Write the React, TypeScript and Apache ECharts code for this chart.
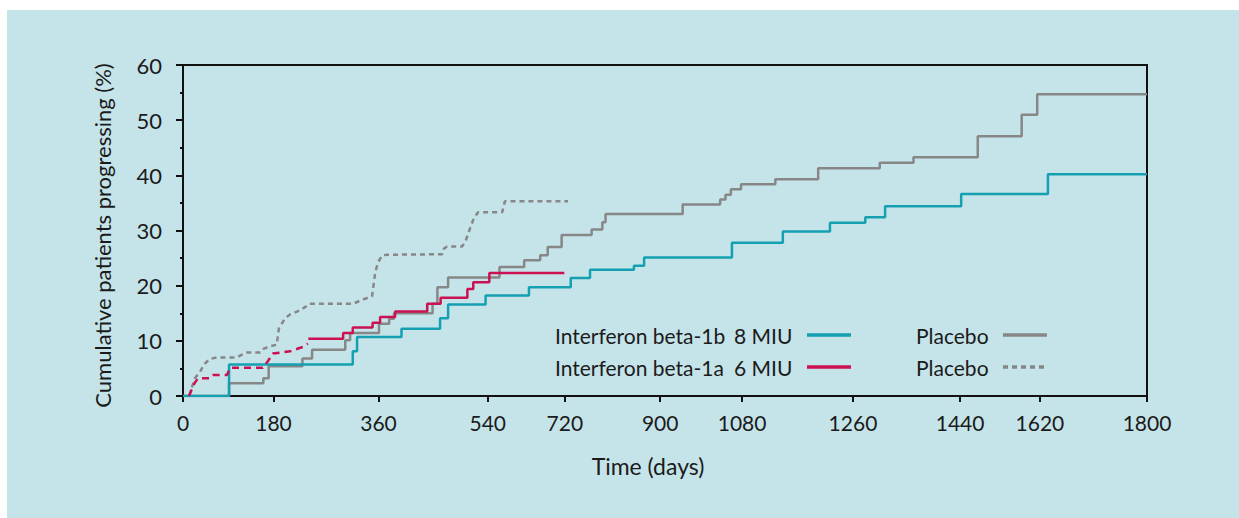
import React, { useEffect, useRef } from "react";
import * as echarts from "echarts";

// Kaplan–Meier style cumulative progression (time on the drawn axis in days, %)
const beta1b8MIU: [number, number][] = [
  [0, 0], [86, 5.7], [317, 8.1], [325, 10.7], [408, 12.2], [480, 14.1], [495, 16.6],
  [565, 18.2], [646, 19.7], [724, 21.4], [760, 22.9], [842, 23.6], [861, 25.1],
  [1025, 27.8], [1120, 29.8], [1208, 31.4], [1274, 32.4], [1311, 34.4], [1453, 36.6],
  [1615, 40.2], [1800, 40.2],
];

const placebo1b: [number, number][] = [
  [0, 0], [86, 2.3], [150, 3.2], [160, 5.4], [223, 6.8], [241, 8.4], [303, 10.1],
  [312, 11.4], [366, 13.1], [385, 14.0], [394, 15.0], [466, 16.7], [475, 19.7],
  [495, 21.5], [591, 23.4], [637, 24.6], [667, 25.5], [681, 27.0], [707, 29.2],
  [763, 30.2], [783, 31.5], [789, 33.0], [933, 34.7], [1003, 35.6], [1013, 36.5],
  [1023, 37.5], [1042, 38.4], [1106, 39.3], [1186, 41.3], [1301, 42.3], [1364, 43.3],
  [1484, 47.1], [1566, 51.0], [1595, 54.7], [1800, 54.7],
];

const beta1a6MIUEarly: [number, number][] = [
  [11, 0], [22, 2.4], [28, 3.2], [50, 3.2], [56, 3.8], [82, 3.8], [88, 5.1],
  [149, 5.1], [159, 6.4], [168, 7.7], [200, 8.1], [215, 8.6], [224, 8.9], [233, 9.5],
];

const beta1a6MIU: [number, number][] = [
  [234, 10.4], [299, 11.4], [317, 12.4], [354, 13.3], [368, 14.3], [396, 15.3],
  [456, 16.7], [481, 17.8], [531, 19.4], [542, 20.6], [572, 22.3], [712, 22.3],
];

const placebo1a: [number, number][] = [
  [12, 0], [16, 1.4], [22, 3.2], [32, 4.4], [39, 5.7], [50, 6.7], [64, 7.0], [101, 7.0],
  [110, 7.5], [120, 7.9], [144, 7.9], [151, 8.6], [162, 9.0], [175, 9.3], [179, 12.2],
  [190, 14.0], [200, 14.8], [213, 15.3], [228, 16.1], [235, 16.7], [317, 16.7],
  [331, 17.3], [353, 18.1], [359, 22.4], [364, 24.2], [372, 25.5], [381, 25.6],
  [484, 25.7], [487, 26.7], [493, 27.1], [521, 27.1], [527, 27.9], [536, 30.4],
  [543, 32.2], [551, 33.3], [596, 33.3], [601, 35.3], [611, 35.3], [719, 35.3],
];

// Tick labels of the time axis, and where the original figure printed them on its scale
const xTickLabels = ["0", "180", "360", "540", "720", "900", "1080", "1260", "1440", "1620", "1800"];
const xTickPlacement = [0, 169, 365, 569, 713, 891, 1044, 1251, 1451, 1600, 1800];
const yTicks = [0, 10, 20, 30, 40, 50, 60];

const leftLegend = [
  { name: "Interferon beta-1b 8 MIU", label: "Interferon beta-1b", dose: "8 MIU" },
  { name: "Interferon beta-1a 6 MIU", label: "Interferon beta-1a", dose: "6 MIU" },
];
const rightLegend = [
  { name: "Placebo (beta-1b)", label: "Placebo" },
  { name: "Placebo (beta-1a)", label: "Placebo" },
];

const TEAL = "#14a0b1";
const RED = "#cc1152";
const GRAY = "#878787";
const FONT = "Lato, 'Open Sans', sans-serif";
const TXT = "#1b1b1b";

export default function App() {
  const ref = useRef<HTMLDivElement>(null);
  useEffect(() => {
    if (!ref.current) return;
    const chart = echarts.init(ref.current, undefined, { renderer: "svg" });
    const labelOf: Record<string, string> = {};
    leftLegend.forEach((l) => (labelOf[l.name] = `{n|${l.label}}{m|${l.dose}}`));
    rightLegend.forEach((l) => (labelOf[l.name] = `{p|${l.label}}`));
    const lineSeries = (name: string, data: any, color: string, opts: any = {}) => ({
      name,
      type: "line",
      data,
      showSymbol: false,
      symbol: "none",
      lineStyle: { color, width: 2.5, ...(opts.lineStyle || {}) },
      itemStyle: { color },
      step: opts.step,
      z: opts.z ?? 2,
      silent: true,
    });
    const legendBase = {
      orient: "vertical",
      top: 323,
      padding: 0,
      align: "right",
      itemWidth: 44,
      itemHeight: 14,
      itemGap: 8,
      selectedMode: false,
      formatter: (name: string) => labelOf[name] ?? name,
      lineStyle: { width: 3.5 },
      itemStyle: { opacity: 0 },
    };
    const rich = (w: number) => ({
      width: w, align: "left", fontSize: 21, fontFamily: FONT, color: TXT, lineHeight: 24,
    });
    chart.setOption({
      animation: false,
      backgroundColor: "transparent",
      textStyle: { fontFamily: FONT, color: TXT },
      grid: {
        left: 183, right: 92, top: 65, bottom: 122,
        show: true, borderColor: "#111", borderWidth: 2, backgroundColor: "transparent",
      },
      xAxis: {
        type: "value",
        min: 0,
        max: 1800,
        name: "Time (days)",
        nameLocation: "middle",
        nameGap: 58,
        nameTextStyle: { fontSize: 23, color: TXT, fontFamily: FONT, padding: [0, 34, 0, 0] },
        axisLine: { show: true, onZero: false, lineStyle: { color: "#111", width: 2 } },
        axisTick: { show: true, length: 6, customValues: xTickPlacement, lineStyle: { color: "#111", width: 2 } },
        axisLabel: {
          fontSize: 21, color: TXT, margin: 16, fontFamily: FONT,
          customValues: xTickPlacement,
          formatter: (v: number) => {
            const i = xTickPlacement.indexOf(v);
            return i >= 0 ? xTickLabels[i] : "";
          },
        },
        splitLine: { show: false },
      },
      yAxis: {
        type: "value",
        min: yTicks[0],
        max: yTicks[yTicks.length - 1],
        interval: 10,
        name: "Cumulative patients progressing (%)",
        nameLocation: "middle",
        nameGap: 70,
        nameTextStyle: { fontSize: 22, color: TXT, fontFamily: FONT, padding: [0, 10, 0, 0] },
        axisLine: { show: true, lineStyle: { color: "#111", width: 2 } },
        axisTick: { show: true, length: 7, lineStyle: { color: "#111", width: 2 } },
        minorTick: { show: true, splitNumber: 2, length: 3, lineStyle: { color: "#111", width: 2 } },
        axisLabel: { fontSize: 22, color: TXT, margin: 21, fontFamily: FONT, formatter: (v: number) => String(v) },
        splitLine: { show: false },
      },
      legend: [
        {
          ...legendBase,
          data: leftLegend.map((l) => l.name),
          left: 555,
          textStyle: { fontFamily: FONT, color: TXT, fontSize: 21, lineHeight: 24, rich: { n: rich(179), m: rich(68) } },
        },
        {
          ...legendBase,
          data: rightLegend.map((l) => l.name),
          left: 916,
          textStyle: { fontFamily: FONT, color: TXT, fontSize: 21, lineHeight: 24, rich: { p: rich(82) } },
        },
      ],
      series: [
        lineSeries("Placebo (beta-1a)", placebo1a, GRAY, { lineStyle: { type: [5, 4], width: 2.5 }, z: 1 }),
        lineSeries("Placebo (beta-1b)", placebo1b, GRAY, { step: "end", z: 2 }),
        lineSeries("Interferon beta-1b 8 MIU", beta1b8MIU, TEAL, { step: "end", z: 3 }),
        lineSeries("beta-1a early", beta1a6MIUEarly, RED, { lineStyle: { type: [7, 5], width: 2.5 }, z: 4 }),
        lineSeries("Interferon beta-1a 6 MIU", beta1a6MIU, RED, { step: "end", z: 4 }),
      ],
    });
    return () => chart.dispose();
  }, []);
  return (
    <div style={{ position: "fixed", left: 0, top: 0, width: 1239, height: 518, background: "#ffffff" }}>
      <div style={{ position: "absolute", left: 7, top: 10, right: 0, bottom: 0, background: "#c5e4e9" }} />
      <div ref={ref} style={{ position: "absolute", left: 0, top: 0, width: 1239, height: 518 }} />
    </div>
  );
}
